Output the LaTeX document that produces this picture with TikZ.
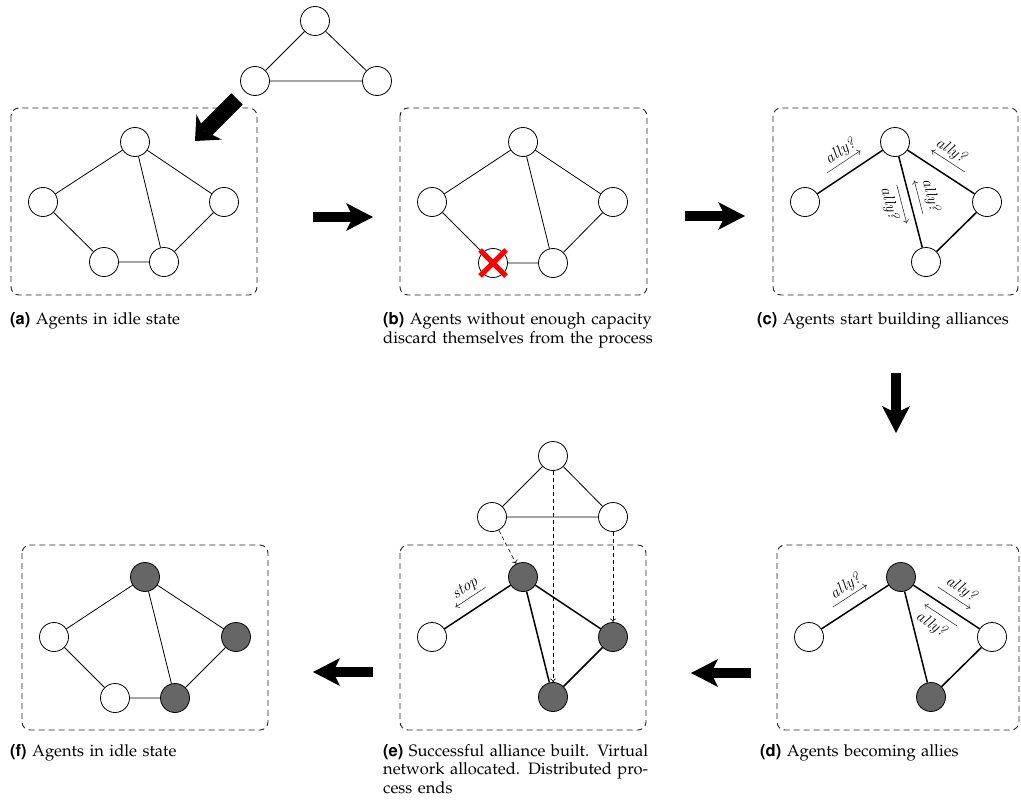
\documentclass[tikz,border=0pt]{standalone}
\usepackage[T1]{fontenc}
\usetikzlibrary{arrows.meta,calc}

% caption, tag and message fonts
\newcommand\capfont{\fontfamily{ppl}\fontsize{16.5}{18.6}\selectfont}
\newcommand\tagfont{\fontfamily{phv}\bfseries}
\newcommand\msgfontcmd{\usefont{TU}{lmr}{m}{it}\fontsize{16}{16}\selectfont}

% small message arrow running parallel to the link #1--#2
\newcommand\msgarrow[5]{\draw[msg] ($(#1)!#3!(#2)!#5!90:(#2)$) -- ($(#1)!#4!(#2)!#5!90:(#2)$);}
% message text set along a line parallel to the link #1--#2
\newcommand\msgtext[5]{\path ($(#1)!#5!90:(#2)$) -- ($(#2)!#5!-90:(#1)$) node[pos=#3, sloped, inner sep=0pt, font=\msgfontcmd] {#4};}

\begin{document}
\begin{tikzpicture}[x=1pt, y=-1pt,
  agent/.style={circle, draw, fill=white, minimum size=29pt, inner sep=0pt, line width=0.8pt},
  allied/.style={agent, fill=black!60},
  panel/.style={draw=black!85, line width=0.9pt, dash pattern=on 6pt off 4pt, rounded corners=8pt},
  link/.style={line width=0.8pt},
  strong/.style={line width=1.5pt},
  msg/.style={line width=0.55pt, draw=black!85, -{To[length=3.5pt, width=6pt]}},
  map/.style={line width=0.6pt, dash pattern=on 4pt off 3pt, -{To[length=3.5pt, width=6pt]}},
  flow/.style={line width=10pt, -{Stealth[length=27pt, width=28pt, inset=7pt, line width=0pt]}},
  bigflow/.style={line width=16pt, -{Stealth[length=20pt, width=36pt, inset=6pt, line width=0pt]}},
  xmark/.style={line width=5pt, draw=red},
  caption/.style={anchor=north west, inner sep=0pt, text width=276pt, align=left, font=\capfont}
]
\useasboundingbox (0,0) rectangle (1021,800);

% ---------------- (a) idle agents and incoming virtual network
\draw[panel] (11,108) rectangle (257,295);
\node[agent] (ta) at (135,142) {};
\node[agent] (la) at (43,202) {};
\node[agent] (ra) at (224,202) {};
\node[agent] (pa) at (104,262) {};
\node[agent] (qa) at (164,262) {};
\draw[link] (ta) -- (la) (ta) -- (ra) (ta) -- (qa) (la) -- (pa) (pa) -- (qa) (ra) -- (qa);

\node[agent] (w0) at (315,21) {};
\node[agent] (w1) at (255,81) {};
\node[agent] (w2) at (377,81) {};
\draw[link] (w0) -- (w1) (w0) -- (w2) (w1) -- (w2);

\coordinate (g0) at (237,99);
\coordinate (g1) at (195,141);
\draw[bigflow] (g0) -- (g1);

\node[caption] (capa) at (10,312.5) {{\tagfont (a)} Agents in idle state};

% ---------------- (b) one agent drops out
\draw[panel] (400,108) rectangle (647,295);
\node[agent] (tb) at (523,142) {};
\node[agent] (lb) at (432,202) {};
\node[agent] (rb) at (613,202) {};
\node[agent] (pb) at (493,263) {};
\node[agent] (qb) at (553,263) {};
\draw[link] (tb) -- (lb) (tb) -- (rb) (tb) -- (qb) (lb) -- (pb) (pb) -- (qb) (rb) -- (qb);
\draw[xmark] ([shift={(-13,-13)}]pb.center) -- ([shift={(13,13)}]pb.center)
             ([shift={(-13,13)}]pb.center) -- ([shift={(13,-13)}]pb.center);

\node[caption] (capb) at (383,312.5) {{\tagfont (b)} Agents without enough capacity\\discard themselves from the process};

% ---------------- (c) alliance requests
\draw[panel] (773,108) rectangle (1018,295);
\node[agent] (tc) at (895,142) {};
\node[agent] (lc) at (805,202) {};
\node[agent] (rc) at (987,202) {};
\node[agent] (qc) at (926,262) {};
\draw[strong] (lc) -- (tc) (tc) -- (rc) (tc) -- (qc) (rc) -- (qc);
\msgarrow{lc}{tc}{.32}{.69}{12pt}
\msgtext{lc}{tc}{.53}{ally?}{22pt}
\msgarrow{tc}{rc}{.68}{.32}{13pt}
\msgtext{tc}{rc}{.47}{ally?}{23pt}
\msgarrow{tc}{qc}{.62}{.34}{9pt}
\msgtext{tc}{qc}{.49}{ally?}{21pt}
\msgarrow{tc}{qc}{.34}{.66}{-9pt}
\msgtext{tc}{qc}{.47}{ally?}{-21pt}

\node[caption] (capc) at (757,312.5) {{\tagfont (c)} Agents start building alliances};

% ---------------- (d) agents become allies
\draw[panel] (777,545) rectangle (1019,730);
\node[allied] (td) at (901,577) {};
\node[agent] (ld) at (809,637) {};
\node[agent] (rd) at (992,637) {};
\node[allied] (qd) at (931,697) {};
\draw[strong] (ld) -- (td) (td) -- (rd) (td) -- (qd) (rd) -- (qd);
\msgarrow{ld}{td}{.33}{.70}{12pt}
\msgtext{ld}{td}{.53}{ally?}{22pt}
\msgarrow{td}{rd}{.33}{.69}{12pt}
\msgtext{td}{rd}{.52}{ally?}{23pt}
\msgarrow{td}{rd}{.68}{.32}{-10pt}
\msgtext{td}{rd}{.47}{ally?}{-23pt}

\node[caption] (capd) at (760,744) {{\tagfont (d)} Agents becoming allies};

% ---------------- (e) alliance built, virtual network mapped
\draw[panel] (400,545) rectangle (646,730);
\node[allied] (te) at (523,577) {};
\node[agent] (le) at (432,637) {};
\node[allied] (re) at (613,637) {};
\node[allied] (qe) at (553,697) {};
\draw[strong] (le) -- (te) (te) -- (re) (te) -- (qe) (re) -- (qe);
\msgarrow{le}{te}{.66}{.33}{12pt}
\msgtext{le}{te}{.50}{stop}{22pt}

\node[agent] (v0) at (553,456) {};
\node[agent] (v1) at (492,517) {};
\node[agent] (v2) at (613,517) {};
\draw[link] (v0) -- (v1) (v0) -- (v2) (v1) -- (v2);
\draw[map] (v1) -- (te);
\draw[map] (v0) -- (qe);
\draw[map] (v2) -- (re);

\node[caption] (cape) at (383,744) {{\tagfont (e)} Successful alliance built. Virtual\\network allocated. Distributed pro-\\cess ends};

% ---------------- (f) back to idle
\draw[panel] (22,545) rectangle (268,730);
\node[allied] (tf) at (145,577) {};
\node[agent] (lf) at (54,637) {};
\node[allied] (rf) at (236,637) {};
\node[agent] (pf) at (115,698) {};
\node[allied] (qf) at (175,698) {};
\draw[link] (tf) -- (lf) (tf) -- (rf) (tf) -- (qf) (lf) -- (pf) (pf) -- (qf) (rf) -- (qf);

\node[caption] (capf) at (10,744) {{\tagfont (f)} Agents in idle state};

% ---------------- flow between stages
\coordinate (ab0) at (313,217); \coordinate (ab1) at (373,217);
\coordinate (bc0) at (685,216); \coordinate (bc1) at (745,216);
\coordinate (cd0) at (896,373); \coordinate (cd1) at (896,433);
\coordinate (de0) at (751,673); \coordinate (de1) at (691,673);
\coordinate (ef0) at (373,672); \coordinate (ef1) at (313,672);
\draw[flow] (ab0) -- (ab1);
\draw[flow] (bc0) -- (bc1);
\draw[flow] (cd0) -- (cd1);
\draw[flow] (de0) -- (de1);
\draw[flow] (ef0) -- (ef1);
\end{tikzpicture}
\end{document}
